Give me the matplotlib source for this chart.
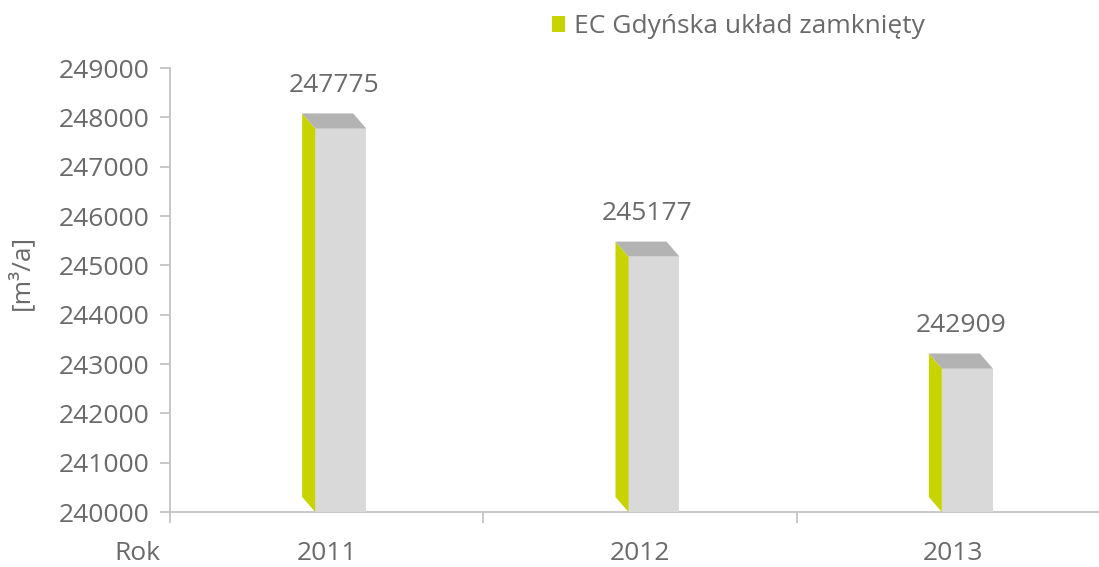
import matplotlib.pyplot as plt
from matplotlib.patches import Polygon, Patch

# === DATA ===
years = ["2011", "2012", "2013"]
values = [247775, 245177, 242909]
series_name = "EC Gdyńska układ zamknięty"
y_ticks = [240000, 241000, 242000, 243000, 244000, 245000, 246000, 247000, 248000, 249000]

# === STYLE ===
GREEN = "#c8d400"
FRONT = "#d9d9d9"
TOP = "#b3b3b3"
TEXT = "#6a6a6a"
SPINE = "#bfbfbf"
plt.rcParams["font.family"] = ["Open Sans", "DejaVu Sans"]
FS = 19

W, H = 1099, 567
fig = plt.figure(figsize=(W / 100, H / 100), dpi=100)
ax_left, ax_right, ax_bottom, ax_top = 170, 1110, 512, 68
ax = fig.add_axes([ax_left / W, 1 - ax_bottom / H, (ax_right - ax_left) / W, (ax_bottom - ax_top) / H])

ymin, ymax = y_ticks[0], y_ticks[-1]
ax.set_xlim(-0.5, len(years) - 0.5)
ax.set_ylim(ymin, ymax)

# pixel -> data conversion for the fake 3D depth
px_per_x = (ax_right - ax_left) / len(years)
px_per_y = (ax_bottom - ax_top) / (ymax - ymin)
depth_dx = -13 / px_per_x
depth_dy = 15 / px_per_y
bar_w = 51 / px_per_x
shift = 14 / px_per_x

for i, v in enumerate(values):
    x0 = i + shift - bar_w / 2
    x1 = x0 + bar_w
    # front face
    ax.bar(x0, v - ymin, width=bar_w, bottom=ymin, align="edge", color=FRONT, zorder=3)
    # left side (green)
    side = [(x0, ymin), (x0, v), (x0 + depth_dx, v + depth_dy), (x0 + depth_dx, ymin + depth_dy)]
    ax.add_patch(Polygon(side, closed=True, facecolor=GREEN, edgecolor="none", zorder=3))
    # top face
    top = [(x0, v), (x1, v), (x1 + depth_dx, v + depth_dy), (x0 + depth_dx, v + depth_dy)]
    ax.add_patch(Polygon(top, closed=True, facecolor=TOP, edgecolor="none", zorder=3))
    # value label
    ax.annotate(f"{v}", xy=((x0 + depth_dx + x1) / 2, v + depth_dy), xytext=(0, 11),
                textcoords="offset points", ha="center", va="bottom",
                fontsize=FS, color=TEXT, zorder=4)

# axes styling
for s in ["top", "right"]:
    ax.spines[s].set_visible(False)
for s in ["left", "bottom"]:
    ax.spines[s].set_color(SPINE)
    ax.spines[s].set_linewidth(1.2)

ax.set_yticks(y_ticks)
ax.set_yticklabels([str(t) for t in y_ticks])
ax.tick_params(axis="y", length=7, width=1.2, color=SPINE, pad=7.5, labelsize=FS, labelcolor=TEXT)

# category boundaries as major ticks, labels on minor ticks
ax.set_xticks([i - 0.5 for i in range(len(years) + 1)])
ax.set_xticklabels([])
ax.tick_params(axis="x", which="major", length=8, width=1.2, color=SPINE)
ax.set_xticks(range(len(years)), minor=True)
ax.set_xticklabels(years, minor=True)
ax.tick_params(axis="x", which="minor", length=0, pad=21, labelsize=FS, labelcolor=TEXT)

ax.set_ylabel("[m³/a]", fontsize=FS, color=TEXT)
ax.yaxis.set_label_coords(-(170 - 34) / (ax_right - ax_left), 0.54)

fig.text(137 / W, 1 - 553 / H, "Rok", ha="center", va="center", fontsize=FS, color=TEXT)

# legend
fig.legend(handles=[Patch(facecolor=GREEN, edgecolor="none")], labels=[series_name],
           loc="upper left", bbox_to_anchor=(552 / W, 1 - 14 / H), frameon=False,
           fontsize=FS, labelcolor=TEXT, handlelength=0.5, handleheight=0.55,
           handletextpad=0.35, borderpad=0, borderaxespad=0)

fig.savefig("out.png", dpi=100)
